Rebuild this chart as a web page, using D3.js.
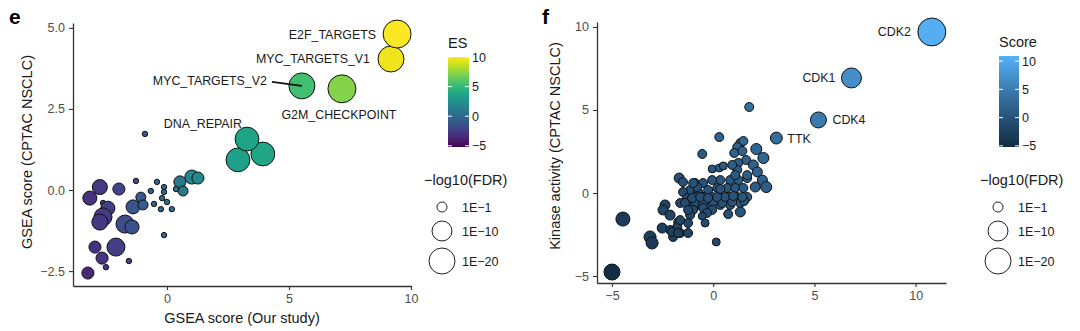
<!DOCTYPE html>
<html>
<head>
<meta charset="utf-8">
<script src="https://cdn.jsdelivr.net/npm/d3@7"></script>
<style>
  body { margin: 0; background: #fff; }
  svg text { font-family: "Liberation Sans", Arial, Helvetica, sans-serif; }
</style>
</head>
<body>
<script>
// panel e: [GSEA score ours, GSEA score CPTAC, -log10(FDR), ES, label]
var gseaPoints = [
  [-2.75, 0.09, 4.4, -2.6], [-3.16, -0.25, 3.5, -3.0], [-1.97, 0.03, 2.1, -2.2],
  [-1.27, 0.28, 0, -1.6], [-2.62, -0.40, 0, -2.5], [-2.42, -0.56, 3.5, -2.4],
  [-2.62, -0.83, 7.5, -2.6], [-2.75, -0.99, 5.3, -2.8], [-1.72, -1.05, 7.5, -1.7],
  [-1.43, -1.14, 3.5, -1.5], [-1.39, -0.52, 3.5, -1.2], [-1.07, -0.22, 1, -1.0],
  [-0.98, -0.46, 1, -0.8], [-0.66, -0.03, 0, -0.5], [-0.41, 0.25, 0, -0.3],
  [-0.12, 0.09, 0, 0.0], [-0.12, -0.06, 0, 0.0], [-0.20, -0.25, 0, -0.1],
  [-0.53, -0.43, 0, -0.5], [-0.25, -0.59, 0, -0.3], [0.00, -0.37, 0, 0.1],
  [0.20, -0.59, 0, 0.2], [-0.12, -1.39, 0, -0.2], [0.53, 0.25, 2.1, 0.8],
  [0.66, -0.03, 1, 0.9], [0.37, 0.03, 0, 0.5], [1.02, 0.40, 3.5, 1.8],
  [1.27, 0.37, 2.1, 1.9], [-2.95, -1.76, 2.1, -3.0], [-2.09, -1.76, 7.5, -2.4],
  [-2.66, -2.10, 2.1, -2.9], [-2.50, -2.38, 0, -2.8], [-1.56, -2.19, 0, -1.8],
  [-3.24, -2.56, 2.1, -3.5], [-0.90, 1.73, 0, -1.0],
  [2.91, 0.93, 16, 3.5], [3.93, 1.11, 16, 3.8], [3.28, 1.57, 16, 3.7, 'DNA_REPAIR'],
  [5.53, 3.21, 20, 5.4, 'MYC_TARGETS_V2'], [7.17, 3.12, 24, 7.2, 'G2M_CHECKPOINT'],
  [9.18, 4.04, 20, 9.6, 'MYC_TARGETS_V1'], [9.43, 4.81, 24, 9.9, 'E2F_TARGETS']
];
var gseaXTicks = [0, 5, 10];
var gseaYTicks = [-2.5, 0, 2.5, 5];
var esTicks = [-5, 0, 5, 10];
var esLimits = [-5.2, 10.0];

// panel f: [kinase score ours, kinase activity CPTAC, -log10(FDR), Score, label]
var kinasePoints = [
  [1.78, 5.18, 0.6, 3.4], [0.30, 3.37, 0.6, 1.8], [-0.54, 2.35, 0.6, 0.9],
  [1.34, 3.01, 0.6, 2.2], [1.49, 3.13, 0.6, 2.3], [1.19, 2.77, 0.6, 2.0],
  [1.04, 2.41, 0.6, 1.7], [1.44, 2.53, 0.6, 2.0], [2.13, 2.65, 1.5, 2.4],
  [2.48, 2.11, 1.5, 2.3], [1.63, 1.99, 0.6, 1.8], [1.24, 1.81, 0.6, 1.5],
  [1.98, 1.69, 1.0, 1.8], [2.18, 1.27, 1.0, 1.7], [2.43, 0.78, 1.0, 1.6],
  [2.62, 0.36, 1.5, 1.5], [2.08, 0.36, 1.0, 1.2], [-0.05, 1.45, 0.3, 0.7],
  [0.30, 1.51, 0.3, 0.9], [0.50, 1.63, 0.3, 1.1], [1.19, 1.39, 0.6, 1.3],
  [0.84, 0.78, 0.6, 0.8], [1.24, 0.78, 0.6, 1.0], [1.68, 0.90, 0.6, 1.3],
  [0.35, 0.78, 0.6, 0.6], [-0.05, 0.78, 0.6, 0.4], [-1.68, 0.90, 1.0, -0.4],
  [-1.49, 0.66, 0.6, -0.4], [-0.89, 0.60, 0.6, -0.1], [-0.50, 0.60, 0.6, 0.1],
  [-1.14, 0.18, 0.6, -0.5], [-1.49, 0.06, 0.6, -0.7], [-0.74, 0.06, 0.6, -0.3],
  [-0.25, 0.18, 0.6, 0.0], [0.20, 0.30, 0.6, 0.3], [0.69, 0.30, 0.6, 0.5],
  [1.09, 0.30, 0.6, 0.7], [1.49, 0.30, 0.6, 0.9], [1.68, -0.24, 0.6, 0.7],
  [1.19, -0.24, 0.6, 0.5], [0.74, -0.24, 0.6, 0.3], [0.35, -0.24, 0.6, 0.1],
  [-0.05, -0.24, 0.6, -0.1], [-0.50, -0.24, 0.6, -0.4], [-0.89, -0.24, 0.6, -0.6],
  [-1.29, -0.30, 0.6, -0.8], [-1.63, -0.60, 0.6, -1.1], [-2.38, -0.72, 1.0, -1.6],
  [-1.14, -0.78, 0.6, -1.0], [-0.64, -0.72, 0.6, -0.7], [-0.30, -0.78, 0.6, -0.5],
  [0.35, -0.72, 0.6, -0.2], [0.84, -0.72, 0.6, 0.1], [1.34, -0.60, 0.6, 0.4],
  [0.94, 1.69, 0.6, 1.3], [1.09, 1.08, 0.6, 1.1], [1.68, 1.08, 0.6, 1.4],
  [-0.79, 0.36, 0.6, -0.2], [-1.39, -0.60, 0.6, -1.0], [-0.89, -0.60, 0.6, -0.7],
  [-0.50, -0.60, 0.6, -0.6], [0.00, -0.54, 0.6, -0.3], [0.45, -0.60, 0.6, -0.1],
  [0.94, -0.54, 0.6, 0.2], [1.53, -0.48, 0.6, 0.5], [-2.48, -1.02, 1.0, -1.8],
  [-0.99, -1.02, 0.6, -1.0], [-0.50, -0.90, 0.6, -0.7], [-0.05, -1.02, 0.6, -0.5],
  [-0.30, -1.20, 0.6, -0.8], [0.74, -1.27, 0.6, -0.3], [1.34, -1.14, 1.0, 0.1],
  [-2.13, -1.33, 1.0, -1.7], [-1.73, -1.75, 0.6, -1.7], [-1.14, -1.33, 0.6, -1.2],
  [-0.54, -1.39, 0.3, -1.0], [-0.40, -1.81, 0.3, -1.1], [-1.24, -1.81, 0.6, -1.5],
  [-1.78, -2.05, 0.6, -1.9], [-2.52, -2.11, 1.0, -2.3], [-2.13, -2.23, 0.6, -2.2],
  [-1.98, -2.65, 0.6, -2.3], [-1.63, -2.41, 0.6, -2.0], [-1.24, -2.41, 0.6, -1.8],
  [-1.24, -1.02, 0.6, -1.1], [-1.63, -1.63, 0.6, -1.6],
  [1.44, -0.24, 0.6, 0.6], [0.59, -0.24, 0.6, 0.2], [0.99, -0.18, 0.6, 0.4],
  [0.20, -0.24, 0.6, 0.0], [0.35, 0.24, 0.6, 0.3], [-1.04, -0.30, 0.6, -0.7],
  [-0.64, -0.24, 0.6, -0.4], [-0.25, -0.30, 0.6, -0.3], [-0.99, 0.60, 0.6, -0.2],
  [-2.03, -2.35, 0.6, -2.2], [-1.73, -2.41, 0.6, -2.1],
  [-3.12, -2.65, 2.1, -2.9], [-3.02, -3.01, 2.1, -3.0], [-4.46, -1.57, 3.5, -3.0],
  [-5.00, -4.76, 5.3, -4.9], [0.15, -2.95, 0.3, -1.4],
  [3.12, 3.31, 2.0, 3.3, 'TTK'], [5.20, 4.40, 5.3, 4.9, 'CDK4'],
  [6.83, 6.93, 10, 7.0, 'CDK1'], [10.80, 9.70, 24, 10.6, 'CDK2']
];
var kinaseXTicks = [-5, 0, 5, 10];
var kinaseYTicks = [-5, 0, 5, 10];
var scoreTicks = [-5, 0, 5, 10];
var scoreLimits = [-5.2, 10.9];

// shared size legend
var fdrBreaks = [1, 10, 20];
var fdrLabels = ['1E\u22121', '1E\u221210', '1E\u221220'];

var W = 1080, H = 331;
var svg = d3.select('body').append('svg')
  .attr('width', W).attr('height', H);

var sizeScale = d3.scaleSqrt().domain([0, 20]).range([2.7, 13]);

var esColor = d3.scaleSequential(d3.interpolateViridis).domain(esLimits);
var scoreColor = d3.scaleLinear().domain(scoreLimits)
  .range(['#132B43', '#56B1F7']).interpolate(d3.interpolateLab).clamp(true);

function drawAxes(x, y, xTicks, yTicks, yFmt) {
  var ax = svg.append('g')
    .attr('transform', 'translate(0,' + y.range()[0] + ')')
    .call(d3.axisBottom(x).tickValues(xTicks).tickSize(4).tickSizeOuter(0).tickPadding(4));
  var ay = svg.append('g')
    .attr('transform', 'translate(' + x.range()[0] + ',0)')
    .call(d3.axisLeft(y).tickValues(yTicks).tickSize(4).tickSizeOuter(0).tickPadding(4).tickFormat(yFmt));
  [ax, ay].forEach(function(g) {
    g.select('.domain').attr('stroke', '#333').attr('stroke-width', 1.3);
    g.selectAll('.tick line').attr('stroke', '#333').attr('stroke-width', 1.1);
    g.selectAll('.tick text').attr('fill', '#4d4d4d').attr('font-size', 12.5)
      .style('font-family', '"Liberation Sans", Arial, sans-serif');
  });
}

function drawPoints(rows, x, y, color) {
  svg.append('g').selectAll('circle')
    .data(rows)
    .enter()
    .append('circle')
    .attr('cx', function(d) { return x(d[0]); })
    .attr('cy', function(d) { return y(d[1]); })
    .attr('r', function(d) { return sizeScale(d[2]); })
    .attr('fill', function(d) { return color(d[3]); })
    .attr('stroke', '#111')
    .attr('stroke-width', 1);
}

function drawColorbar(x0, y0, w, h, title, scale, ticks) {
  var id = 'grad' + title;
  var grad = svg.append('defs').append('linearGradient')
    .attr('id', id).attr('x1', 0).attr('y1', 1).attr('x2', 0).attr('y2', 0);
  var dom = scale.domain();
  d3.range(0, 1.0001, 0.05).forEach(function(t) {
    grad.append('stop').attr('offset', t)
      .attr('stop-color', scale(dom[0] + t * (dom[1] - dom[0])));
  });
  svg.append('text').attr('x', x0).attr('y', y0 - 9)
    .attr('font-size', 14.5).attr('fill', '#1a1a1a').text(title);
  svg.append('rect').attr('x', x0).attr('y', y0).attr('width', w).attr('height', h)
    .attr('fill', 'url(#' + id + ')');
  var ty = d3.scaleLinear().domain(dom).range([y0 + h, y0]);
  ticks.forEach(function(t) {
    var yy = ty(t);
    svg.append('line').attr('x1', x0).attr('x2', x0 + 4).attr('y1', yy).attr('y2', yy)
      .attr('stroke', '#fff').attr('stroke-width', 1);
    svg.append('line').attr('x1', x0 + w - 4).attr('x2', x0 + w).attr('y1', yy).attr('y2', yy)
      .attr('stroke', '#fff').attr('stroke-width', 1);
    svg.append('text').attr('x', x0 + w + 3).attr('y', yy + 4.5)
      .attr('font-size', 12.5).attr('fill', '#1a1a1a').text(d3.format('d')(t));
  });
}

function drawSizeLegend(x0, y0) {
  svg.append('text').attr('x', x0).attr('y', y0)
    .attr('font-size', 14.5).attr('fill', '#1a1a1a').text('\u2212log10(FDR)');
  var cy = [y0 + 22, y0 + 46, y0 + 76];
  fdrBreaks.forEach(function(b, i) {
    svg.append('circle').attr('cx', x0 + 18).attr('cy', cy[i]).attr('r', sizeScale(b))
      .attr('fill', 'none').attr('stroke', '#222').attr('stroke-width', 1);
    svg.append('text').attr('x', x0 + 38).attr('y', cy[i] + 4.5)
      .attr('font-size', 12.5).attr('fill', '#1a1a1a').text(fdrLabels[i]);
  });
}

// ---- panel e ----
var xE = d3.scaleLinear().domain([-3.85, 10]).range([73, 411]);
var yE = d3.scaleLinear().domain([-2.96, 5.15]).range([286, 23]);
drawAxes(xE, yE, gseaXTicks, gseaYTicks, d3.format('.1f'));
drawPoints(gseaPoints, xE, yE, esColor);

// labels for e (placement per pathway)
var labelE = {
  'E2F_TARGETS': { dx: -21, dy: 0, anchor: 'end' },
  'MYC_TARGETS_V1': { dx: -21, dy: 0, anchor: 'end' },
  'MYC_TARGETS_V2': { dx: -35, dy: -5, anchor: 'end', line: true },
  'G2M_CHECKPOINT': { dx: -3, dy: 26, anchor: 'middle' },
  'DNA_REPAIR': { dx: -5, dy: -16, anchor: 'end' }
};
gseaPoints.filter(function(d) { return d[4]; }).forEach(function(d) {
  var p = labelE[d[4]];
  var px = xE(d[0]), py = yE(d[1]);
  if (p.line) {
    svg.append('line').attr('x1', px + p.dx + 5).attr('y1', py + p.dy + 1)
      .attr('x2', px).attr('y2', py).attr('stroke', '#111').attr('stroke-width', 1.6);
  }
  svg.append('text').attr('x', px + p.dx).attr('y', py + p.dy + 4.5)
    .attr('text-anchor', p.anchor).attr('font-size', 12.4).attr('fill', '#1a1a1a')
    .text(d[4]);
});

svg.append('text').attr('x', 242).attr('y', 323).attr('text-anchor', 'middle')
  .attr('font-size', 14.5).attr('fill', '#1a1a1a').text('GSEA score (Our study)');
svg.append('text').attr('transform', 'translate(32,152)rotate(-90)').attr('text-anchor', 'middle')
  .attr('font-size', 14.5).attr('fill', '#1a1a1a').text('GSEA score (CPTAC NSCLC)');
svg.append('text').attr('x', 9).attr('y', 24).attr('font-size', 21).attr('font-weight', 'bold')
  .text('e');

drawColorbar(448, 57, 21, 90, 'ES', esColor, esTicks);
drawSizeLegend(424, 185);

// ---- panel f ----
var xF = d3.scaleLinear().domain([-5.74, 11.5]).range([597, 946]);
var yF = d3.scaleLinear().domain([-5.42, 10.3]).range([283, 22]);
drawAxes(xF, yF, kinaseXTicks, kinaseYTicks, d3.format('d'));
drawPoints(kinasePoints, xF, yF, scoreColor);

var labelF = {
  'CDK2': { dx: -21, anchor: 'end' },
  'CDK1': { dx: -16, anchor: 'end' },
  'CDK4': { dx: 14, anchor: 'start' },
  'TTK': { dx: 11, anchor: 'start' }
};
kinasePoints.filter(function(d) { return d[4]; }).forEach(function(d) {
  var p = labelF[d[4]];
  svg.append('text').attr('x', xF(d[0]) + p.dx).attr('y', yF(d[1]) + 4.5)
    .attr('text-anchor', p.anchor).attr('font-size', 12.4).attr('fill', '#1a1a1a')
    .text(d[4]);
});

svg.append('text').attr('transform', 'translate(560,146)rotate(-90)').attr('text-anchor', 'middle')
  .attr('font-size', 14.5).attr('fill', '#1a1a1a').text('Kinase activity (CPTAC NSCLC)');
svg.append('text').attr('x', 542).attr('y', 24).attr('font-size', 21).attr('font-weight', 'bold')
  .text('f');

drawColorbar(999, 56, 20, 91, 'Score', scoreColor, scoreTicks);
drawSizeLegend(980, 185);
</script>
</body>
</html>
